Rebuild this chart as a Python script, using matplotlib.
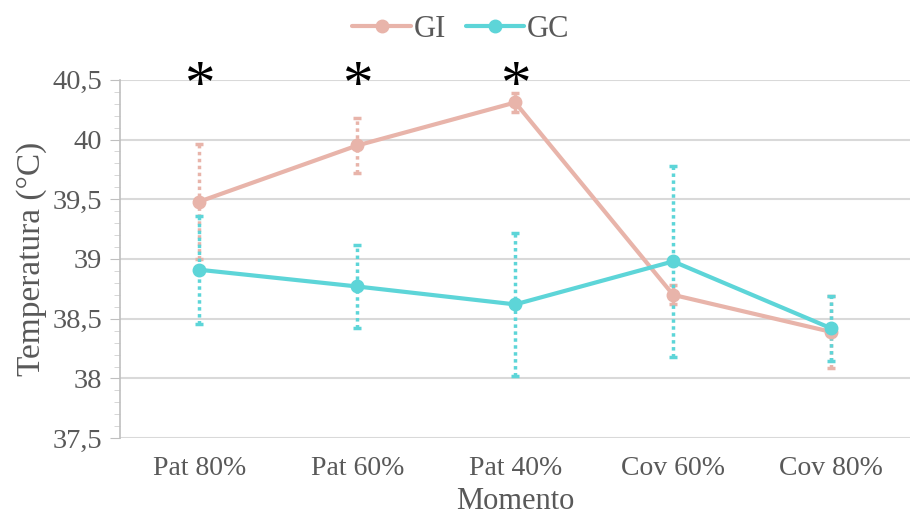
import matplotlib
matplotlib.use("Agg")
import matplotlib.pyplot as plt
from matplotlib.ticker import MultipleLocator, FuncFormatter
import numpy as np

categories = ["Pat 80%", "Pat 60%", "Pat 40%", "Cov 60%", "Cov 80%"]
gi_mean = [39.48, 39.95, 40.31, 38.70, 38.39]
gi_err = [0.48, 0.23, 0.08, 0.08, 0.30]
gc_mean = [38.91, 38.77, 38.62, 38.98, 38.42]
gc_err = [0.45, 0.35, 0.60, 0.80, 0.27]
signif = [True, True, True, False, False]

GI_COLOR = "#E8B4AA"
GC_COLOR = "#5DD5D8"
GRAY = "#595959"

plt.rcParams['font.family'] = ['Liberation Serif', 'DejaVu Serif']

fig = plt.figure(figsize=(9.11, 5.18), dpi=100)
ax = fig.add_axes([0.132, 0.154, 0.867, 0.692])

x = np.arange(len(categories))

for mean, err, col, lab in [(gi_mean, gi_err, GI_COLOR, "GI"), (gc_mean, gc_err, GC_COLOR, "GC")]:
    eb = ax.errorbar(x, mean, yerr=err, fmt='none', ecolor=col, elinewidth=2.5,
                     capsize=3, capthick=2.5, zorder=3)
    for lc in eb[2]:
        lc.set_linestyle((0, (1, 1)))
    ax.plot(x, mean, color=col, lw=3, marker='o', markersize=9, label=lab, zorder=4,
            solid_capstyle='round')

ax.set_xlim(-0.5, len(categories) - 0.5)
ax.set_ylim(37.5, 40.5)
ax.yaxis.set_major_locator(MultipleLocator(0.5))
ax.yaxis.set_minor_locator(MultipleLocator(0.1))
ax.yaxis.set_major_formatter(FuncFormatter(lambda v, p: ('%g' % v).replace('.', ',')))
ax.set_xticks(x)
ax.set_xticklabels(categories)

ax.grid(axis='y', which='major', color='#D9D9D9', lw=1.5, zorder=0)
ax.set_axisbelow(True)
for s in ['top', 'right', 'bottom']:
    ax.spines[s].set_visible(False)
ax.spines['left'].set_color('#BFBFBF')
ax.spines['left'].set_linewidth(1.2)
ax.tick_params(axis='y', which='major', direction='out', length=7, color='#BFBFBF',
               labelsize=20.5, labelcolor=GRAY, pad=6)
ax.tick_params(axis='y', which='minor', direction='out', length=4, color='#D0D0D0')
ax.tick_params(axis='x', length=0, labelsize=20, labelcolor=GRAY, pad=13)

ax.set_xlabel("Momento", fontsize=22, color=GRAY, labelpad=4)
ax.set_ylabel("Temperatura (°C)", fontsize=24, color=GRAY, labelpad=4)

for i, s in enumerate(signif):
    if s:
        ax.text(x[i], 40.44, "*", ha='center', va='center', fontsize=44,
                color='black', clip_on=False)

leg = fig.legend(loc='upper center', bbox_to_anchor=(0.506, 1.025), ncol=2, frameon=False,
                 fontsize=22, handlelength=1.9, columnspacing=0.65, handletextpad=0.1)
for t in leg.get_texts():
    t.set_color(GRAY)

fig.savefig("out.png", dpi=100)
